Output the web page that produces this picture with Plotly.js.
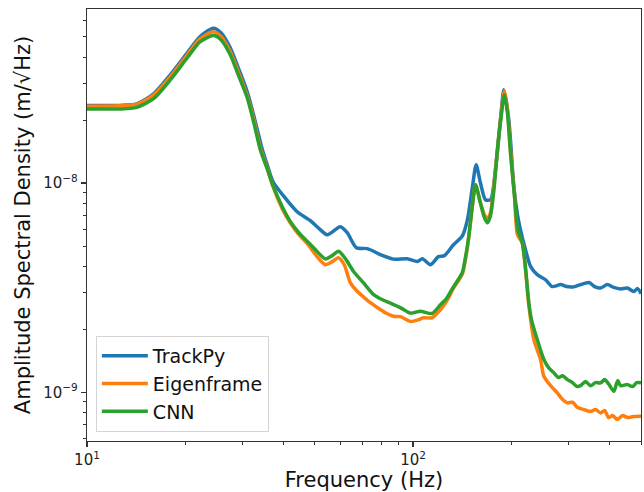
<!DOCTYPE html>
<html>
<head>
<meta charset="utf-8">
<script src="https://cdn.plot.ly/plotly-3.0.1.min.js"></script>
<style>html,body{margin:0;padding:0;background:#fff;}#chart{width:644px;height:492px;}</style>
</head>
<body>
<div id="chart"></div>
<script>
// Frequencies (Hz) and amplitude spectral densities (m/√Hz)
const freqTrackPy = [10,12.6,14.2,16.0,18.0,20.3,22.2,24.4,25.8,27.5,29.1,31.0,32.6,34.5,35.7,37.2,40.0,44.1,48.4,51.2,54.6,59.8,62.8,67.0,72.4,79.4,87.0,96.0,103.1,106.8,113.0,119.6,124.8,133.0,141.7,146.8,152.1,156.1,160.9,166.7,172.7,178.9,185.4,189.8,196.6,203.7,209.0,213.5,221.2,229.2,240.3,254.8,267.3,283.4,295.6,311.2,326.4,346.1,360.3,376.0,394.2,412.1,433.0,454.1,474.7,488.3,500];
const asdTrackPy = [2.35e-8,2.35e-8,2.39e-8,2.67e-8,3.29e-8,4.19e-8,5.0e-8,5.50e-8,5.22e-8,4.43e-8,3.55e-8,2.73e-8,2.05e-8,1.442e-8,1.223e-8,1.014e-8,8.7e-9,7.29e-9,6.61e-9,6.11e-9,5.66e-9,6.18e-9,5.79e-9,4.91e-9,4.86e-9,4.55e-9,4.33e-9,4.35e-9,4.22e-9,4.35e-9,4.07e-9,4.45e-9,4.50e-9,5.07e-9,5.60e-9,6.68e-9,9.6e-9,1.223e-8,1.003e-8,8.32e-9,8.32e-9,1.157e-8,2.006e-8,2.79e-8,2.0e-8,9.6e-9,7.06e-9,5.98e-9,4.80e-9,4.0e-9,3.65e-9,3.45e-9,3.20e-9,3.27e-9,3.20e-9,3.19e-9,3.27e-9,3.35e-9,3.20e-9,3.15e-9,3.27e-9,3.17e-9,3.12e-9,3.15e-9,3.03e-9,3.13e-9,2.96e-9];

const freqEigenframe = [10,12.6,14.2,16.0,18.0,20.3,22.2,24.4,25.8,27.5,29.1,31.0,32.6,34.0,35.7,37.2,39.7,42.0,44.4,47.4,50.5,53.8,56.5,59.0,61.5,64.2,67.5,70.4,74.0,77.7,82.2,87.0,91.4,98.1,103.8,107.5,114.4,121.3,126.5,133.3,141.4,144.7,148.2,152.1,155.4,160.9,165.5,169.1,172.7,177.0,181.4,186.0,190.6,194.7,198.9,204.6,209.0,216.1,221.2,226.4,234.6,246.0,251.8,264.0,276.9,287.4,297.1,308.4,319.5,334.0,350.2,362.7,376.0,386.7,397.8,409.2,422.9,439.0,454.9,474.7,500];
const asdEigenframe = [2.33e-8,2.34e-8,2.38e-8,2.64e-8,3.22e-8,4.10e-8,4.89e-8,5.28e-8,5.0e-8,4.24e-8,3.40e-8,2.61e-8,1.962e-8,1.475e-8,1.183e-8,9.6e-9,7.54e-9,6.46e-9,5.73e-9,5.13e-9,4.50e-9,4.07e-9,4.21e-9,4.40e-9,4.07e-9,3.34e-9,3.03e-9,2.86e-9,2.68e-9,2.54e-9,2.40e-9,2.31e-9,2.30e-9,2.18e-9,2.22e-9,2.27e-9,2.27e-9,2.48e-9,2.71e-9,3.16e-9,3.65e-9,4.30e-9,5.54e-9,7.88e-9,9.81e-9,8.05e-9,7.06e-9,6.75e-9,7.21e-9,9.81e-9,1.442e-8,2.12e-8,2.76e-8,2.24e-8,1.442e-8,8.79e-9,5.66e-9,5.19e-9,3.85e-9,2.62e-9,1.786e-9,1.433e-9,1.192e-9,1.076e-9,9.93e-10,9.23e-10,8.90e-10,8.96e-10,8.45e-10,8.27e-10,8.09e-10,8.27e-10,7.97e-10,8.19e-10,7.57e-10,7.74e-10,7.41e-10,7.74e-10,7.57e-10,7.66e-10,7.68e-10];

const freqCNN = [10,12.6,14.2,16.0,18.0,20.3,22.2,24.4,25.8,27.5,29.1,31.0,32.6,34.0,35.7,37.2,39.7,42.0,44.4,47.4,50.5,53.8,56.5,59.1,62.0,65.7,70.4,75.7,80.5,85.2,91.4,98.1,105.3,114.4,121.3,126.5,133.3,141.4,144.7,148.2,152.1,155.4,160.9,165.5,169.1,172.7,177.0,181.4,186.0,190.6,194.7,198.9,204.6,209.4,216.1,221.2,226.4,230.8,240.3,251.8,260.3,270.2,279.4,287.4,297.1,308.4,317.2,326.4,338.1,350.2,362.7,376.0,386.7,397.8,413.0,423.9,433.0,454.1,471.4,484.9,500];
const asdCNN = [2.26e-8,2.26e-8,2.30e-8,2.53e-8,3.11e-8,3.97e-8,4.73e-8,5.07e-8,4.83e-8,4.10e-8,3.29e-8,2.56e-8,1.898e-8,1.442e-8,1.170e-8,9.71e-9,7.70e-9,6.56e-9,5.85e-9,5.26e-9,4.75e-9,4.34e-9,4.50e-9,4.72e-9,4.35e-9,3.78e-9,3.34e-9,2.93e-9,2.77e-9,2.67e-9,2.54e-9,2.39e-9,2.44e-9,2.38e-9,2.62e-9,2.80e-9,3.21e-9,3.72e-9,4.40e-9,5.56e-9,7.88e-9,9.81e-9,8.02e-9,6.83e-9,6.46e-9,6.98e-9,9.29e-9,1.442e-8,2.05e-8,2.64e-8,2.17e-8,1.395e-8,8.70e-9,5.98e-9,5.19e-9,3.94e-9,2.68e-9,2.22e-9,1.786e-9,1.433e-9,1.312e-9,1.238e-9,1.176e-9,1.200e-9,1.150e-9,1.112e-9,1.068e-9,1.076e-9,1.125e-9,1.076e-9,1.112e-9,1.109e-9,1.150e-9,1.096e-9,1.011e-9,1.137e-9,1.076e-9,1.088e-9,1.065e-9,1.112e-9,1.109e-9];

const seriesNames = ["TrackPy", "Eigenframe", "CNN"];
const xTickVals = [10, 100];
const xTickText = ["10<sup>1</sup>", "10<sup>2</sup>"];
const xMinorVals = [20,30,40,50,60,70,80,90,200,300,400,500];
const yTickVals = [1e-9, 1e-8];
const yTickText = ["10<sup>\u22129</sup>", "10<sup>\u22128</sup>"];
const yMinorVals = [6e-10,7e-10,8e-10,9e-10,2e-9,3e-9,4e-9,5e-9,6e-9,7e-9,8e-9,9e-9,2e-8,3e-8,4e-8,5e-8,6e-8];

const colors = ["#1f77b4", "#ff7f0e", "#2ca02c"];
const xs = [freqTrackPy, freqEigenframe, freqCNN];
const ys = [asdTrackPy, asdEigenframe, asdCNN];

const traces = seriesNames.map((n, i) => ({
  x: xs[i], y: ys[i], name: n, type: "scatter", mode: "lines",
  line: {color: colors[i], width: 3.5, shape: "spline", smoothing: 0.7}
}));

const FONT = "DejaVu Sans, sans-serif";
const axisCommon = {
  type: "log", showgrid: false, zeroline: false,
  showline: true, mirror: true, linecolor: "#333", linewidth: 1.2,
  ticks: "outside", ticklen: 5, tickwidth: 1.2, tickcolor: "#333",
  tickfont: {family: FONT, size: 15, color: "#222"},
  tickmode: "array"
};

const layout = {
  width: 644, height: 492,
  margin: {l: 87, r: 3, t: 9, b: 51},
  paper_bgcolor: "#fff", plot_bgcolor: "#fff",
  showlegend: true,
  xaxis: Object.assign({}, axisCommon, {
    range: [1, Math.log10(500)],
    tickvals: xTickVals, ticktext: xTickText,
    minor: {tickmode: "array", tickvals: xMinorVals, ticks: "outside", ticklen: 3, tickwidth: 1, tickcolor: "#333"},
    title: {text: "Frequency (Hz)", font: {family: FONT, size: 21, color: "#111"}, standoff: 7},
    automargin: false
  }),
  yaxis: Object.assign({}, axisCommon, {
    range: [Math.log10(5.85e-10), Math.log10(6.79e-8)],
    tickvals: yTickVals, ticktext: yTickText,
    minor: {tickmode: "array", tickvals: yMinorVals, ticks: "outside", ticklen: 3, tickwidth: 1, tickcolor: "#333"},
    title: {text: "Amplitude Spectral Density (m/\u221aHz)", font: {family: FONT, size: 21, color: "#111"}, standoff: 6},
    automargin: false
  }),
  legend: {
    x: 0.016, y: 0.021, xanchor: "left", yanchor: "bottom",
    bgcolor: "rgba(255,255,255,0.8)", bordercolor: "#d4d4d4", borderwidth: 1,
    font: {family: FONT, size: 19, color: "#111"},
    itemwidth: 46, tracegroupgap: 0
  }
};

Plotly.newPlot("chart", traces, layout, {displayModeBar: false, staticPlot: true});
</script>
</body>
</html>
